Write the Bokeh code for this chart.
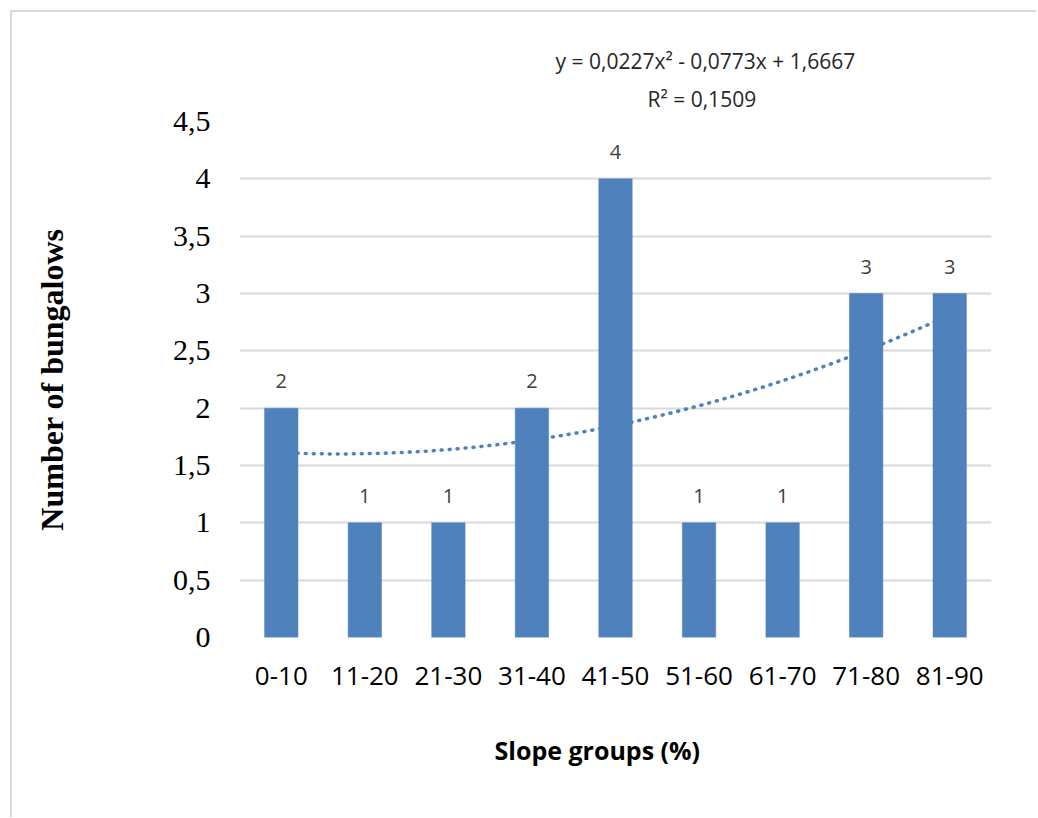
import numpy as np
from bokeh.plotting import figure
from bokeh.models import ColumnDataSource, FactorRange, Range1d, FixedTicker, LabelSet, Title
from bokeh.core.properties import value
from bokeh.embed import file_html
from bokeh.resources import INLINE

# ---- data ----
categories = ["0-10", "11-20", "21-30", "31-40", "41-50", "51-60", "61-70", "71-80", "81-90"]
counts = [2, 1, 1, 2, 4, 1, 1, 3, 3]
y_ticks = [0, 0.5, 1, 1.5, 2, 2.5, 3, 3.5, 4, 4.5]
y_tick_labels = ["0", "0,5", "1", "1,5", "2", "2,5", "3", "3,5", "4", "4,5"]
equation_text = "y = 0,0227x² - 0,0773x + 1,6667"
r2_text = "R² = 0,1509"
x_title = "Slope groups (%)"
y_title = "Number of bungalows"

BAR = "#4F81BD"
GRID = "#d9d9d9"

# layout (page pixels)
FL, FR, FT, FB = 239, 991, 121, 637
FW, FH = FR - FL, FB - FT
ORG = 12  # canvas origin on the page (margin 10 + border 2)

p = figure(x_range=FactorRange(*categories, range_padding=0),
           y_range=Range1d(0, 4.5),
           frame_width=FW, frame_height=FH,
           min_border_left=FL - ORG, min_border_right=1036 - FR,
           min_border_top=FT - ORG, min_border_bottom=180,
           output_backend="svg", toolbar_location=None,
           background_fill_color="white", border_fill_color="white")
p.outline_line_color = None
p.margin = (10, 0, 0, 10)
p.styles = {"border-left": "2px solid #d9d9d9", "border-top": "2px solid #d9d9d9"}

# trendline (2nd order polynomial fit of the counts), drawn behind bars
xi = np.arange(1, len(categories) + 1)
coef = np.polyfit(xi, counts, 2)
xs = np.linspace(1, len(categories), 200)
ys = np.polyval(coef, xs)
p.line(xs - 0.5, ys, line_color=BAR, line_width=3.5, line_dash="1 7", line_cap="round")

src = ColumnDataSource(dict(cat=categories, n=counts, lab=[str(c) for c in counts]))
p.vbar(x="cat", top="n", width=0.4, source=src, fill_color=BAR, line_color=BAR, line_width=0.5)

p.add_layout(LabelSet(x="cat", y="n", text="lab", source=src, text_align="center",
                      text_baseline="middle", y_offset=27, text_font=value("Open Sans"),
                      text_font_size="20px", text_color="#404040"))

# axes
p.xgrid.grid_line_color = None
p.ygrid.grid_line_color = GRID
p.ygrid.grid_line_width = 2
p.yaxis.ticker = FixedTicker(ticks=y_ticks)
p.yaxis.major_label_overrides = {t: l for t, l in zip(y_ticks, y_tick_labels)}
p.yaxis.axis_line_color = None
p.yaxis.major_tick_line_color = None
p.yaxis.minor_tick_line_color = None
p.yaxis.major_label_standoff = 23
p.yaxis.major_label_text_font = "Liberation Serif"
p.yaxis.major_label_text_font_size = "30px"
p.yaxis.major_label_text_color = "black"
p.yaxis.axis_label = y_title
p.yaxis.axis_label_standoff = 100
p.yaxis.axis_label_text_font = "Liberation Serif"
p.yaxis.axis_label_text_font_style = "bold"
p.yaxis.axis_label_text_font_size = "32px"
p.yaxis.axis_label_text_color = "black"

p.xaxis.axis_line_color = None
p.xaxis.major_tick_line_color = None
p.xaxis.major_label_standoff = 23
p.xaxis.major_label_text_font = "Open Sans"
p.xaxis.major_label_text_font_size = "26px"
p.xaxis.major_label_text_color = "black"

# titles and equation (side panels)
p.add_layout(Title(text=x_title, align="left", offset=494 - FL, standoff=86,
                   text_font="Open Sans", text_font_style="bold", text_font_size="25px",
                   text_color="black"), "below")
p.add_layout(Title(text=r2_text, align="left", offset=647 - FL, standoff=17,
                   text_font="Open Sans", text_font_style="normal", text_font_size="21px",
                   text_color="#262626"), "above")
p.add_layout(Title(text=equation_text, align="left", offset=555 - FL, standoff=0,
                   text_font="Open Sans", text_font_style="normal", text_font_size="21px",
                   text_color="#262626"), "above")

open("out.html", "w").write(file_html(p, INLINE))
